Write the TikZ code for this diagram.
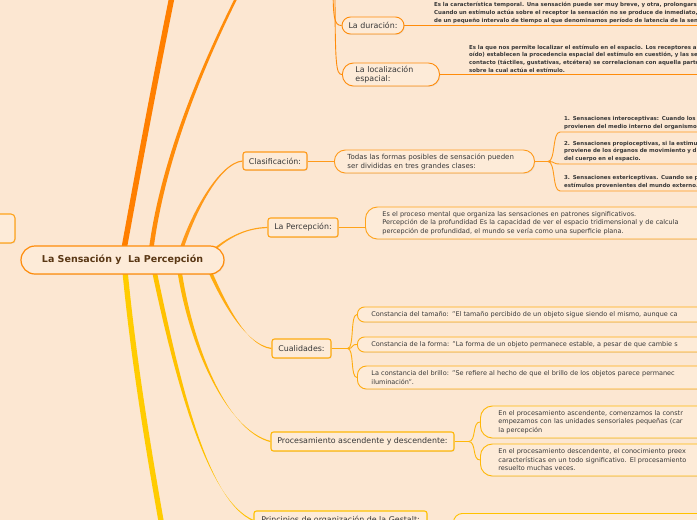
\documentclass[tikz,border=0pt]{standalone}
\usepackage{fontspec}
\setmainfont{DejaVu Sans}
\usetikzlibrary{calc,shadows}

\definecolor{paper}{HTML}{FCE7D2}
\definecolor{boxfill}{HTML}{FDEBD8}
\definecolor{ink}{HTML}{383838}
\definecolor{rootink}{HTML}{5A3815}
\definecolor{brA}{HTML}{FF7F00}
\definecolor{brB}{HTML}{FF8C0A}
\definecolor{brC}{HTML}{FF9A1A}
\definecolor{brD}{HTML}{FFA31A}
\definecolor{brE}{HTML}{FFAC10}
\definecolor{brF}{HTML}{FFB808}
\definecolor{brG}{HTML}{FFC200}
\definecolor{brH}{HTML}{FFCC00}

\pgfdeclarelayer{paperlayer}
\pgfdeclarelayer{limbs}
\pgfsetlayers{paperlayer,limbs,main}

\newcommand\limb[7]{%
  \fill[#1] ($#2+(#6,0)$) .. controls ($#3+(#6,0)$) and ($#4+#7$) .. ($#5+#7$)
    -- ($#5-#7$) .. controls ($#4-#7$) and ($#3-(#6,0)$) .. ($#2-(#6,0)$) -- cycle;}

\tikzset{
  lift/.style={drop shadow={shadow xshift=0.8pt,shadow yshift=-0.9pt,opacity=0.13}},
  root/.style={draw=brB, fill=boxfill, line width=1.2pt, rounded corners=14pt,
    minimum width=203pt, minimum height=28pt, text=rootink,
    font=\fontsize{9.5}{11}\selectfont\bfseries, lift},
  topic/.style={draw=#1, fill=boxfill, line width=1.1pt, rounded corners=2.5pt,
    inner sep=0pt, text=ink, font=\fontsize{7.9}{9.5}\selectfont, lift},
  pill/.style={draw=#1, fill=boxfill, line width=0.9pt, inner ysep=0pt, text=ink,
    font=\fontsize{7.9}{9.5}\selectfont, lift},
  leaf/.style={draw=#1, fill=boxfill, line width=0.9pt, anchor=west, align=left,
    inner ysep=0pt, text=ink, font=\fontsize{6.5}{8.5}\selectfont, lift},
  note/.style={anchor=south west, align=left, text=ink, inner xsep=4pt, inner ysep=2pt,
    text width=330pt, font=\fontsize{5.45}{7.7}\selectfont\bfseries},
  twig/.style={draw=#1, line width=0.9pt}
}

\begin{document}
\begin{tikzpicture}[x=1pt,y=-1pt]
\useasboundingbox (0,0) rectangle (697,520);
\begin{pgfonlayer}{paperlayer}
\fill[paper] (0,0) rectangle (697,520);
\end{pgfonlayer}
\clip (0,0) rectangle (697,520);

\node[root] (root) at (122.5,260) {La Sensación y~ La Percepción};
\node[topic=brD, minimum width=75pt, minimum height=29pt, rounded corners=4pt] (side) at (-22.5,228.5) {};

\node[pill=brB, minimum width=62pt, minimum height=17pt, rounded corners=8.5pt] (durac) at (373,25.5) {La duración:};
\node[note] (duracNote) at (430,25.5) {Es la característica temporal. Una sensación puede ser muy breve, y otra, prolongarse\\Cuando un estímulo actúa sobre el receptor la sensación no se produce de inmediato, s\\de un pequeño intervalo de tiempo al que denominamos período de latencia de la sens};

\node[pill=brB, anchor=west, minimum height=23pt, rounded corners=11pt, inner xsep=13pt,
  text width=71pt, align=left] (localiz) at (342,74.5) {La localización\\espacial:};
\node[note] (localizNote) at (465,74.5) {Es la que nos permite localizar el estímulo en el espacio. Los receptores a c\\oído) establecen la procedencia espacial del estímulo en cuestión, y las sen\\contacto (táctiles, gustativas, etcétera) se correlacionan con aquella parte d\\sobre la cual actúa el estímulo.};

\node[topic=brC, minimum width=64pt, minimum height=18pt] (clasif) at (275,161) {Clasificación:};
\node[leaf=brC, font=\fontsize{7}{9}\selectfont, rounded corners=11pt, inner xsep=13pt,
  text width=174pt, minimum height=23pt] (todas) at (334,161.5) {Todas las formas posibles de sensación pueden\\ser divididas en tres grandes clases:};
\node[note, text width=200pt] (claseA) at (560,132) {1. Sensaciones interoceptivas: Cuando los e\\provienen del medio interno del organismo.};
\node[note, text width=200pt] (claseB) at (560,164) {2. Sensaciones propioceptivas, si la estimul\\proviene de los órganos de movimiento y d\\del cuerpo en el espacio.};
\node[note, text width=200pt] (claseC) at (560,191) {3. Sensaciones estericeptivas. Cuando se p\\estímulos provenientes del mundo externo.};

\node[topic=brD, minimum width=70pt, minimum height=19pt] (percep) at (303,227.5) {La Percepción:};
\node[leaf=brD, rounded corners=12pt, inner xsep=17pt, text width=420pt, minimum height=32pt] (percepDesc) at (365,223) {Es el proceso mental que organiza las sensaciones en patrones significativos.\\Percepción de la profundidad Es la capacidad de ver el espacio tridimensional y de calcula\\percepción de profundidad, el mundo se vería como una superficie plana.};

\node[topic=brE, minimum width=59pt, minimum height=19pt] (cual) at (301.5,348.5) {Cualidades:};
\node[leaf=brE, rounded corners=7pt, inner xsep=14pt, text width=400pt, minimum height=15pt] (cualA) at (357,314.5) {Constancia del tamaño: "El tamaño percibido de un objeto sigue siendo el mismo, aunque ca};
\node[leaf=brE, rounded corners=7pt, inner xsep=14pt, text width=400pt, minimum height=15pt] (cualB) at (357,344.5) {Constancia de la forma: "La forma de un objeto permanece estable, a pesar de que cambie s};
\node[leaf=brE, rounded corners=9pt, inner xsep=14pt, text width=400pt, minimum height=23pt] (cualC) at (357,377.5) {La constancia del brillo: "Se refiere al hecho de que el brillo de los objetos parece permanec\\iluminación".};

\node[topic=brF, minimum width=183pt, minimum height=19pt] (proc) at (362.5,441.5) {Procesamiento ascendente y descendente:};
\node[leaf=brF, rounded corners=12pt, inner xsep=18pt, text width=300pt, minimum height=32pt] (procA) at (480,422) {En el procesamiento ascendente, comenzamos la constr\\empezamos con las unidades sensoriales pequeñas (car\\la percepción};
\node[leaf=brF, rounded corners=12pt, inner xsep=18pt, text width=300pt, minimum height=32pt] (procB) at (480,460) {En el procesamiento descendente, el conocimiento preex\\características en un todo significativo. El procesamiento\\resuelto muchas veces.};

\node[topic=brG, minimum width=173pt, minimum height=19pt] (gestalt) at (340.5,520.5) {Principios de organización de la Gestalt:};
\node[leaf=brG, anchor=north west, rounded corners=9pt, inner xsep=10pt, inner ysep=4pt,
  text width=300pt, minimum height=24pt] (gestaltA) at (453,513) {Proximidad, similitud Continuación o continuidad, cierre y región c};

\coordinate (sUpA) at ($(root.center)+(-0.5,0)$);
\coordinate (sUpB) at ($(root.center)+(27.5,0)$);
\coordinate (sClas) at ($(root.center)+(55.5,0)$);
\coordinate (sPerc) at ($(root.center)+(82.5,-2)$);
\coordinate (sDown) at ($(root.center)+(1.5,0)$);
\coordinate (sGest) at ($(root.center)+(29.5,0)$);
\coordinate (sProc) at ($(root.center)+(55.5,0)$);
\coordinate (sCual) at ($(root.center)+(82.5,0)$);
\coordinate (endUpA) at (192,-100);
\coordinate (endUpB) at (290,-100);
\coordinate (endDown) at (168,560);
\coordinate (upperA) at (333,-20);
\coordinate (upperB) at (335,-20);

\begin{pgfonlayer}{limbs}
\draw[brA, line width=5.5pt] (sUpA) .. controls (133,200) and (158,60) .. (endUpA);
\limb{brB}{(sUpB)}{(158,180)}{(195,60)}{(endUpB)}{2.3}{(1.2,0)}
\limb{brC}{(sClas)}{(192,212)}{(220,163)}{(clasif.west)}{2}{(0,0.6)}
\limb{brD}{(sPerc)}{(225,238)}{(245,228)}{(percep.west)}{1.7}{(0,0.6)}
\limb{brE}{(sCual)}{(222,300)}{(245,345)}{(cual.west)}{2}{(0,0.6)}
\limb{brF}{(sProc)}{(188,340)}{(225,430)}{(proc.west)}{2.2}{(0,0.6)}
\limb{brG}{(sGest)}{(175,370)}{(205,500)}{(gestalt.west)}{2.4}{(0,0.6)}
\draw[brH, line width=5.3pt] (sDown) .. controls (133,360) and (150,460) .. (endDown);

\draw[twig=brB] (upperA) .. controls (333,18) and (334,25.5) .. (durac.west);
\draw[twig=brB] (upperB) .. controls (335,66) and (336,74.5) .. (localiz.west);
\draw[twig=brB] (durac.east) -- (durac.east -| duracNote.south east);
\draw[twig=brB] (localiz.east) -- (localiz.east -| localizNote.south east);

\draw[twig=brC] (clasif.east) -- (clasif.east -| todas.west);
\draw[twig=brC] (todas.east) -- ++(13,0) coordinate (cSplit);
\draw[twig=brC] (cSplit) .. controls +(8,0) and +(-8,0) .. (claseA.south west) -- (claseA.south east);
\draw[twig=brC] (cSplit) .. controls +(8,0) and +(-8,0) .. (claseB.south west) -- (claseB.south east);
\draw[twig=brC] (cSplit) .. controls +(8,0) and +(-8,0) .. (claseC.south west) -- (claseC.south east);

\draw[twig=brD] (percep.east) -- (percep.east -| percepDesc.west);

\draw[twig=brE] (cual.east) -- ++(16,0) coordinate (qSplit);
\draw[twig=brE] (qSplit) .. controls +(7,0) and +(-7,0) .. (cualA.west);
\draw[twig=brE] (qSplit) .. controls +(7,0) and +(-7,0) .. (cualB.west);
\draw[twig=brE] (qSplit) .. controls +(7,0) and +(-7,0) .. (cualC.west);

\draw[twig=brF] (proc.east) -- ++(14,0) coordinate (pSplit);
\draw[twig=brF] (pSplit) .. controls +(8,0) and +(-8,0) .. (procA.west);
\draw[twig=brF] (pSplit) .. controls +(8,0) and +(-8,0) .. (procB.west);

\draw[twig=brG] (gestalt.east) -- (gestalt.east -| gestaltA.west);
\end{pgfonlayer}
\end{tikzpicture}
\end{document}
